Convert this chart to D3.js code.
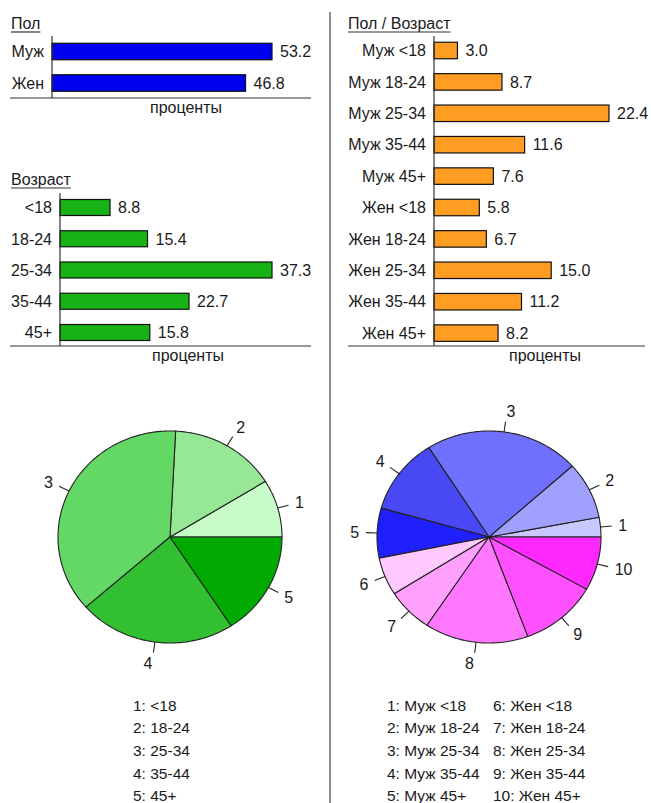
<!DOCTYPE html>
<html><head><meta charset="utf-8">
<script src="https://cdn.jsdelivr.net/npm/d3@7"></script>
<style>body{margin:0;background:#fff}svg{display:block}text{font-family:"Liberation Sans",Arial,sans-serif;fill:#1a1a1a}</style>
</head><body>
<svg id="c" width="651" height="803"></svg>
<script>
const sexCats = ["Муж", "Жен"];
const sexVals = [53.2, 46.8];
const ageCats = ["<18", "18-24", "25-34", "35-44", "45+"];
const ageVals = [8.8, 15.4, 37.3, 22.7, 15.8];
const sexAgeCats = ["Муж <18", "Муж 18-24", "Муж 25-34", "Муж 35-44", "Муж 45+",
                    "Жен <18", "Жен 18-24", "Жен 25-34", "Жен 35-44", "Жен 45+"];
const sexAgeVals = [3.0, 8.7, 22.4, 11.6, 7.6, 5.8, 6.7, 15.0, 11.2, 8.2];
const agePieColors = ["#c8fcc8", "#96e896", "#64d864", "#32c032", "#00aa00"];
const sexAgePieColors = ["#c8c8ff", "#a0a0ff", "#7070ff", "#4848f4", "#2020ff",
                         "#ffc8ff", "#ffa0ff", "#ff78ff", "#ff50ff", "#ff28ff"];
const axisLabel = "проценты";

const svg = d3.select("#c");
const FS = 16;

svg.append("line").attr("x1", 330).attr("x2", 330).attr("y1", 12).attr("y2", 803)
  .attr("stroke", "#555").attr("stroke-width", 1.3);

function barPanel(o) {
  const g = svg.append("g");
  const n = o.cats.length;
  const h = o.barH / o.step;
  const y = d3.scaleBand().domain(o.cats)
    .range([o.c0 - o.step / 2, o.c0 - o.step / 2 + n * o.step])
    .paddingInner(1 - h).paddingOuter((1 - h) / 2);
  const x = d3.scaleLinear().domain([0, d3.max(o.vals)]).range([o.ax, o.maxEnd]);
  const t = g.append("text").attr("x", o.tx).attr("y", o.ty).attr("font-size", FS).text(o.title);
  const tw = t.node().getComputedTextLength();
  g.append("line").attr("x1", o.tx).attr("x2", o.tx + tw).attr("y1", o.ty + 3).attr("y2", o.ty + 3)
    .attr("stroke", "#333").attr("stroke-width", 1.2);
  g.selectAll("rect").data(o.vals).join("rect")
    .attr("x", x(0)).attr("y", (d, i) => y(o.cats[i]))
    .attr("width", d => x(d) - x(0)).attr("height", y.bandwidth())
    .attr("fill", o.color).attr("stroke", "#111").attr("stroke-width", 1.2);
  g.selectAll("text.v").data(o.vals).join("text").attr("class", "v")
    .attr("x", d => x(d) + 8).attr("y", (d, i) => y(o.cats[i]) + y.bandwidth() / 2)
    .attr("dy", "0.36em").attr("font-size", FS).text(d => d.toFixed(1));
  g.selectAll("text.c").data(o.cats).join("text").attr("class", "c")
    .attr("x", o.ax - 8).attr("y", d => y(d) + y.bandwidth() / 2)
    .attr("dy", "0.36em").attr("text-anchor", "end").attr("font-size", FS).text(d => d);
  g.append("line").attr("x1", o.ax).attr("x2", o.ax).attr("y1", o.axTop).attr("y2", o.base)
    .attr("stroke", "#333").attr("stroke-width", 1.2);
  g.append("line").attr("x1", o.lx0).attr("x2", o.lx1).attr("y1", o.base).attr("y2", o.base)
    .attr("stroke", "#333").attr("stroke-width", 1.2);
  g.append("text").attr("x", o.labX).attr("y", o.base + 9).attr("dy", "0.36em")
    .attr("text-anchor", "middle").attr("font-size", FS).text(axisLabel);
}

barPanel({cats: sexCats, vals: sexVals, color: "#0000f0", title: "Пол", tx: 11, ty: 29,
  ax: 52, maxEnd: 272, c0: 51.5, step: 31.5, barH: 16.5, axTop: 36, base: 98,
  lx0: 10, lx1: 311, labX: 186});
barPanel({cats: ageCats, vals: ageVals, color: "#16b216", title: "Возраст", tx: 11, ty: 185,
  ax: 60, maxEnd: 272, c0: 207.5, step: 31.25, barH: 16, axTop: 193, base: 346,
  lx0: 10, lx1: 311, labX: 188});
barPanel({cats: sexAgeCats, vals: sexAgeVals, color: "#ff9c22", title: "Пол / Возраст", tx: 348, ty: 29,
  ax: 434, maxEnd: 609, c0: 50.5, step: 31.4, barH: 16.5, axTop: 36, base: 346,
  lx0: 348, lx1: 645, labX: 545});

function pie(o) {
  const g = svg.append("g").attr("transform", `translate(${o.cx},${o.cy})`);
  const total = d3.sum(o.vals);
  const ang = d3.scaleLinear().domain([0, total]).range([0, 2 * Math.PI]);
  let cum = 0;
  const slices = o.vals.map((v, i) => { const s = {a0: ang(cum), a1: ang(cum + v), i}; cum += v; return s; });
  const px = (a, k) => k * o.rx * Math.cos(a);
  const py = (a, k) => -k * o.ry * Math.sin(a);
  slices.forEach(s => {
    const steps = Math.max(4, Math.ceil((s.a1 - s.a0) / 0.02));
    const pts = [[0, 0]];
    for (let j = 0; j <= steps; j++) {
      const a = s.a0 + (s.a1 - s.a0) * j / steps;
      pts.push([px(a, 1), py(a, 1)]);
    }
    g.append("path").attr("d", d3.line()(pts) + "Z")
      .attr("fill", o.colors[s.i]).attr("stroke", "#222").attr("stroke-width", 1.1)
      .attr("stroke-linejoin", "round");
    const m = (s.a0 + s.a1) / 2;
    g.append("line").attr("x1", px(m, 1)).attr("y1", py(m, 1))
      .attr("x2", px(m, 1.1)).attr("y2", py(m, 1.1)).attr("stroke", "#222").attr("stroke-width", 1.1);
    g.append("text").attr("x", px(m, 1.16)).attr("y", py(m, 1.2)).attr("dy", "0.36em")
      .attr("text-anchor", Math.cos(m) > 0 ? "start" : "end").attr("font-size", FS).text(s.i + 1);
  });
}
pie({vals: ageVals, colors: agePieColors, cx: 170, cy: 537, rx: 112, ry: 106});
pie({vals: sexAgeVals, colors: sexAgePieColors, cx: 489, cy: 537, rx: 112, ry: 106});

function legend(items, x, y0, step) {
  svg.append("g").selectAll("text").data(items).join("text")
    .attr("x", x).attr("y", (d, i) => y0 + i * step).attr("dy", "0.36em")
    .attr("font-size", FS - 0.5).text(d => d);
}
legend(ageCats.map((c, i) => `${i + 1}: ${c}`), 133, 705, 22.7);
legend(sexAgeCats.slice(0, 5).map((c, i) => `${i + 1}: ${c}`), 387, 705, 22.7);
legend(sexAgeCats.slice(5).map((c, i) => `${i + 6}: ${c}`), 493, 705, 22.7);
</script>
</body></html>
